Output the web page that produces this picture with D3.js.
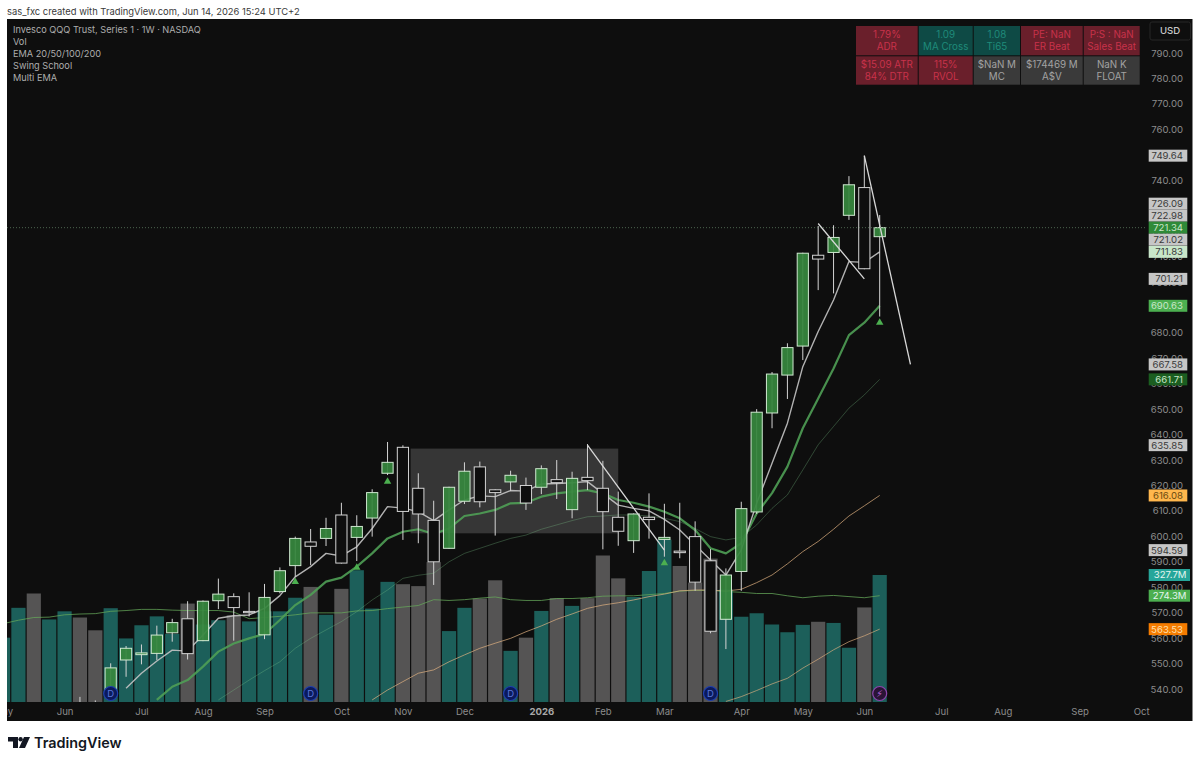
<!DOCTYPE html>
<html>
<head>
<meta charset="utf-8">
<script src="https://cdn.jsdelivr.net/npm/d3@7"></script>
<style>
    html, body { margin: 0; padding: 0; background: #ffffff; }
    svg { display: block; font-family: Inter, "Liberation Sans", sans-serif; }
</style>
</head>
<body>
<script>
// bar index of the first candle, index 0 is the first bar with a D badge
var candleStart = -2;
var opens = [530, 531, 538, 551.4, 553.5, 554.0, 562.1, 567.6, 559.0, 574.7, 576.3, 570.5, 561.3, 578.3, 588.5, 597.8, 599.2, 608.4, 599.6, 607.2, 624.8, 635.0, 618.9, 606.3, 595.3, 613.8, 627.3, 618.3, 621.4, 620.0, 619.3, 622.3, 610.5, 623.2, 618.9, 607.5, 598.3, 607.5, 598.8, 594.2, 599.9, 590.4, 567.4, 586.2, 609.6, 648.5, 663.4, 674.8, 710.5, 711.6, 726.2, 737.1, 717.8];
var highs = [536.9, 535.5, 550.1, 556.9, 557.5, 564.9, 567.6, 574.5, 574.8, 583.4, 577.6, 578, 581.3, 587.8, 599.9, 602.9, 607.3, 613.2, 608.3, 618.5, 637.1, 635.8, 624.8, 614.0, 619.5, 629.1, 629.4, 618.5, 625.8, 623.1, 627.9, 630.0, 625.4, 636.3, 629.7, 617.6, 609, 616.9, 612.8, 613.2, 605.9, 595.0, 587.4, 613.6, 650, 664.6, 675.9, 711.5, 722, 722.3, 741.6, 749.64, 726.3];
var lows = [525, 526, 536, 544.8, 549.7, 551.4, 558.6, 551.6, 558.8, 571.4, 559.0, 568.5, 559.6, 577.6, 584.1, 588.7, 596.2, 589.3, 590.3, 599.9, 624.1, 598.6, 597.3, 580.9, 595.1, 612.7, 611.4, 600.3, 617.8, 610.4, 616.6, 614.7, 607.1, 618.2, 594.9, 596.3, 593.5, 599.1, 592, 591.4, 578.6, 561.9, 555.7, 578.6, 608.8, 642.5, 654.0, 669.3, 696.8, 695.5, 724.4, 705.0, 686.4];
var closes = [533, 533, 548.3, 556.0, 554.2, 561.2, 566.1, 553.9, 574.5, 577.3, 572.0, 570.0, 576.0, 586.5, 599.2, 596.1, 603.1, 589.5, 603.9, 617.2, 629.1, 609.8, 608.8, 590.0, 619.3, 625.6, 613.6, 617.2, 624.0, 613.1, 626.6, 621.1, 622.8, 621.9, 609.7, 602.0, 608.8, 606.6, 599.6, 593.6, 582.0, 562.7, 584.8, 610.9, 648.8, 663.8, 674.2, 711.3, 709.0, 717.5, 738.2, 705.2, 721.34];

// volume in millions
var volumeStart = -7;
var volumes = [166, 243, 280, 213, 234, 218, 185, 242, 164, 198, 221, 176, 254, 200, 211, 224, 208, 234, 234, 269, 297, 225, 292, 340, 241, 310, 304, 299, 361, 183, 243, 267, 314, 132, 166, 235, 268, 248, 268, 378, 319, 271, 338, 419, 351, 308, 370, 290, 220, 229, 200, 180, 199, 207, 204, 140, 244, 327.7];
var greyVolumeBars = [-5, -2, -1, 5, 8, 13, 15, 19, 20, 21, 24, 25, 27, 29, 31, 32, 33, 37, 38, 39, 46, 49];

// moving averages, each starts at its own bar index
var emaWhiteStart = 1;
var emaWhite = [540.3, 546.2, 551.0, 555.3, 554.9, 561.2, 567.8, 568.8, 569.1, 571.7, 576.7, 584.1, 588.1, 593.3, 592.3, 595.9, 603.1, 611.7, 611.1, 609.7, 606.2, 610.4, 614.3, 615.9, 615.6, 618, 617.8, 620.6, 620.8, 621.1, 621.5, 616.9, 612.3, 611, 610, 606.7, 602.5, 596.6, 590.7, 584.8, 594.7, 613, 628.7, 644.5, 666.7, 680.5, 692.9, 708, 707.7, 711.83];
var emaGreenStart = 3;
var emaGreen = [535.7, 540.9, 543.5, 548.8, 554.7, 557.9, 559.9, 561.6, 567.1, 573, 577, 582.2, 583.8, 588.1, 593.3, 599.2, 601.8, 602.8, 600.9, 603.1, 608, 609, 610.4, 613, 613.2, 615.6, 616.9, 617.6, 618.2, 616.9, 614.3, 613.2, 611.7, 609.7, 607.1, 602.5, 595.3, 593.3, 597.3, 609, 617, 627.4, 642.5, 654.2, 666, 679.1, 684, 690.63];
var emaDimStart = 7;
var emaDim = [535.7, 539.6, 543.5, 547.2, 550.7, 556, 559.9, 563.2, 566.5, 570.4, 575, 578.9, 583.5, 584.7, 585.5, 590, 593.3, 595.3, 597.3, 599.2, 600.5, 602.8, 604.5, 606.2, 607.7, 608, 608.4, 608.4, 608, 607.1, 605.8, 603.1, 599.9, 598.6, 599.6, 604.5, 611, 616.3, 626.1, 636, 643.2, 650.4, 655.6, 661.71];
var emaOrangeStart = 17;
var emaOrange = [535.7, 539.6, 542.9, 546.2, 547.5, 550.7, 553.4, 556, 558, 559.9, 562.5, 564.8, 567.4, 569.5, 571.7, 573, 573.9, 575, 576.3, 577.3, 578.6, 578.9, 578.9, 578.5, 579.2, 581.8, 584.8, 589.2, 594, 598, 602.8, 608, 612, 616.08];
var emaLongStart = 40;
var emaLong = [535.1, 537, 539.4, 542, 544.2, 548.2, 551.7, 555.4, 558.6, 560.9, 563.53];

// volume moving average, millions
var volumeMaStart = -7;
var volumeMa = [202, 211, 218, 219, 225, 227, 228, 234, 236, 239, 239, 237, 236, 236, 236, 232, 215, 218, 221, 225, 230, 230, 230, 235, 236, 241, 245, 249, 264, 262, 264, 268, 271, 264, 262, 262, 267, 267, 269, 273, 274, 274, 277, 280, 286, 288, 288, 285, 283, 280, 280, 274, 269, 273, 275, 272, 269, 274.3];

// white swing lines: bar index and price at both ends
var swingFromBar = [31, 46, 49];
var swingFromPrice = [635.85, 722.98, 749.64];
var swingToBar = [36, 49, 52];
var swingToPrice = [594.59, 701.21, 667.58];

// grey base box
var boxBars = [19.5, 33];
var boxPrices = [634.5, 601.2];

// little green triangles and the badges at the bottom
var triangleBars = [12, 16, 18, 36, 50];
var trianglePrices = [582.1, 587.7, 621.5, 589.5, 684];
var dividendBars = [0, 13, 26, 39];
var earningsBar = 50;

// axes
var priceTicks = d3.range(540, 800, 10);
var timeBars = [-7, -3, 2, 6, 10, 15, 19, 23, 28, 32, 36, 41, 45, 49, 54, 58, 63, 67];
var timeNames = ["May", "Jun", "Jul", "Aug", "Sep", "Oct", "Nov", "Dec", "2026", "Feb", "Mar", "Apr", "May", "Jun", "Jul", "Aug", "Sep", "Oct"];

// last value labels on the price axis
var lastPrices = [749.64, 726.09, 722.98, 721.34, 721.02, 711.83, 701.21, 690.63, 667.58, 661.71, 635.85, 616.08, 594.59, 563.53];
var lastFills = ["#c6c6c6", "#c6c6c6", "#c6c6c6", "#2f8a38", "#c6c6c6", "#c8e6c9", "#c6c6c6", "#4caf50", "#c6c6c6", "#1b5e20", "#c6c6c6", "#ffb74d", "#c6c6c6", "#f57c00"];
var lastInks = ["#3a3a3a", "#3a3a3a", "#3a3a3a", "#c8e6c9", "#3a3a3a", "#3a3a3a", "#3a3a3a", "#c8e6c9", "#3a3a3a", "#c8e6c9", "#3a3a3a", "#6a4a10", "#3a3a3a", "#ffe0b2"];
var currentPrice = 721.34;
var lastVolumes = [327.7, 274.3];
var lastVolumeFills = ["#26a69a", "#4caf50"];

// stats table
var tableLines1 = ["1.79%", "1.09", "1.08", "PE: NaN", "P:S : NaN", "$15.09 ATR", "115%", "$NaN M", "$174469 M", "NaN K"];
var tableLines2 = ["ADR", "MA Cross", "Ti65", "ER Beat", "Sales Beat", "84% DTR", "RVOL", "MC", "A$V", "FLOAT"];
var tableKinds = ["red", "teal", "teal", "red", "red", "red", "red", "grey", "grey", "grey"];
var tableFill = { red: "#6a1f2b", teal: "#0e4a45", grey: "#3a3a3a" };
var tableInk = { red: "#c8324a", teal: "#1f8a7a", grey: "#a2a2a2" };
var tableColumns = [856, 918.7, 973.7, 1021, 1083.7, 1140.7];
var tableRows = [26, 56.3, 85.7];

var legendLines = ["Invesco QQQ Trust, Series 1 · 1W · NASDAQ", "Vol", "EMA 20/50/100/200", "Swing School", "Multi EMA"];

var w = 1200;
var h = 764;
var paneLeft = 7, paneRight = 1192.5, paneTop = 19, paneBottom = 721;
var plotBottom = 702, plotRight = 1146;

var x = d3.scaleLinear().domain([0, 50]).range([110.7, 879.7]);
var y = d3.scaleLinear().domain([540, 790]).range([689, 53]);
var yVolume = d3.scaleLinear().domain([0, 327.7]).range([plotBottom, 575]);

var svg = d3.select("body").append("svg")
    .attr("width", w)
    .attr("height", h);

svg.append("defs").append("clipPath")
    .attr("id", "plot-clip")
    .append("rect")
    .attr("x", paneLeft)
    .attr("y", paneTop)
    .attr("width", plotRight - paneLeft)
    .attr("height", plotBottom - paneTop);

svg.append("text")
    .attr("x", 7)
    .attr("y", 14.5)
    .attr("font-size", 9.4)
    .attr("fill", "#3a3a3a")
    .text("sas_fxc created with TradingView.com, Jun 14, 2026 15:24 UTC+2");

svg.append("rect")
    .attr("x", paneLeft)
    .attr("y", paneTop)
    .attr("width", paneRight - paneLeft)
    .attr("height", paneBottom - paneTop)
    .attr("fill", "#0e0e0e");

var plot = svg.append("g").attr("clip-path", "url(#plot-clip)");

// volume
plot.selectAll("rect.volume")
    .data(volumes)
    .enter()
    .append("rect")
    .attr("class", "volume")
    .attr("x", function (d, i) { return x(i + volumeStart) - 7.1; })
    .attr("width", 14.2)
    .attr("y", function (d) { return yVolume(d); })
    .attr("height", function (d) { return plotBottom - yVolume(d); })
    .attr("fill", function (d, i) {
        return greyVolumeBars.indexOf(i + volumeStart) >= 0 ? "#555454" : "#1c5f5a";
    });

// base box
plot.append("rect")
    .attr("x", x(boxBars[0]))
    .attr("width", x(boxBars[1]) - x(boxBars[0]))
    .attr("y", y(boxPrices[0]))
    .attr("height", y(boxPrices[1]) - y(boxPrices[0]))
    .attr("fill", "#ffffff")
    .attr("opacity", 0.17);

// current price line
svg.append("line")
    .attr("x1", paneLeft)
    .attr("x2", plotRight)
    .attr("y1", y(currentPrice))
    .attr("y2", y(currentPrice))
    .attr("stroke", "#5c7a5e")
    .attr("stroke-width", 0.8)
    .attr("stroke-dasharray", "1 2");

function drawLine(values, start, scale, color, width, opacity) {
    var line = d3.line()
        .x(function (d, i) { return x(i + start); })
        .y(function (d) { return scale(d); });
    plot.append("path")
        .attr("d", line(values))
        .attr("fill", "none")
        .attr("stroke", color)
        .attr("stroke-width", width)
        .attr("stroke-opacity", opacity)
        .attr("stroke-linejoin", "round");
}

drawLine(volumeMa, volumeMaStart, yVolume, "#66a85a", 1, 0.75);
drawLine(emaLong, emaLongStart, y, "#e0b080", 1, 0.65);
drawLine(emaOrange, emaOrangeStart, y, "#e0b080", 1, 0.7);
drawLine(emaDim, emaDimStart, y, "#7fc98a", 1, 0.3);
drawLine(emaGreen, emaGreenStart, y, "#4f9f55", 2.2, 0.9);
drawLine(emaWhite, emaWhiteStart, y, "#c4c4c4", 1.4, 0.9);

// candles
var candle = plot.selectAll("g.candle")
    .data(closes)
    .enter()
    .append("g")
    .attr("class", "candle");

candle.append("line")
    .attr("x1", function (d, i) { return x(i + candleStart); })
    .attr("x2", function (d, i) { return x(i + candleStart); })
    .attr("y1", function (d, i) { return y(highs[i]); })
    .attr("y2", function (d, i) { return y(lows[i]); })
    .attr("stroke", "#d4d4d4")
    .attr("stroke-width", 1);

candle.append("rect")
    .attr("x", function (d, i) { return x(i + candleStart) - 5.6; })
    .attr("width", 11.2)
    .attr("y", function (d, i) { return y(Math.max(opens[i], d)); })
    .attr("height", function (d, i) { return Math.max(1, Math.abs(y(opens[i]) - y(d))); })
    .attr("fill", function (d, i) { return d >= opens[i] ? "#36873d" : "#0e0e0e"; })
    .attr("fill-opacity", function (d, i) { return d >= opens[i] ? 0.93 : 1; })
    .attr("stroke", function (d, i) { return d >= opens[i] ? "#cfe8d0" : "#d4d4d4"; })
    .attr("stroke-width", 1);

// swing lines
plot.selectAll("line.swing")
    .data(swingFromBar)
    .enter()
    .append("line")
    .attr("class", "swing")
    .attr("x1", function (d) { return x(d); })
    .attr("y1", function (d, i) { return y(swingFromPrice[i]); })
    .attr("x2", function (d, i) { return x(swingToBar[i]); })
    .attr("y2", function (d, i) { return y(swingToPrice[i]); })
    .attr("stroke", "#d8d8d8")
    .attr("stroke-width", 1.3);

// triangles
plot.selectAll("path.signal")
    .data(triangleBars)
    .enter()
    .append("path")
    .attr("class", "signal")
    .attr("d", d3.symbol().type(d3.symbolTriangle).size(24))
    .attr("transform", function (d, i) {
        return "translate(" + x(d) + "," + y(trianglePrices[i]) + ")";
    })
    .attr("fill", "#4caf50");

// badges
var badge = plot.selectAll("g.badge")
    .data(dividendBars)
    .enter()
    .append("g")
    .attr("class", "badge")
    .attr("transform", function (d) { return "translate(" + x(d) + ",693.5)"; });

badge.append("circle")
    .attr("r", 7)
    .attr("fill", "#0b1a5c")
    .attr("stroke", "#1f3fb0")
    .attr("stroke-width", 1.2);

badge.append("text")
    .attr("text-anchor", "middle")
    .attr("dy", 3.4)
    .attr("font-size", 9.5)
    .attr("fill", "#5a78d8")
    .text("D");

var bolt = plot.append("g")
    .attr("transform", "translate(" + x(earningsBar) + ",693.5)");

bolt.append("circle")
    .attr("r", 7)
    .attr("fill", "#2a1436")
    .attr("stroke", "#8e44ad")
    .attr("stroke-width", 1.2);

bolt.append("text")
    .attr("text-anchor", "middle")
    .attr("dy", 3.4)
    .attr("font-size", 9.5)
    .attr("font-family", "DejaVu Sans")
    .attr("fill", "#b060d0")
    .text("⚡");

// price axis
var priceAxis = svg.append("g")
    .attr("transform", "translate(1183,0)")
    .call(d3.axisRight(y).tickValues(priceTicks).tickSize(0).tickPadding(0)
        .tickFormat(function (d) { return d.toFixed(2); }));

priceAxis.select(".domain").remove();
priceAxis.selectAll("text")
    .attr("text-anchor", "end")
    .attr("font-family", "Inter, sans-serif")
    .attr("font-size", 9.6)
    .attr("fill", "#8c8c8c");

// time axis
var timeAxis = svg.append("g")
    .attr("transform", "translate(0," + plotBottom + ")")
    .call(d3.axisBottom(x).tickValues(timeBars).tickSize(0).tickPadding(6)
        .tickFormat(function (d) { return timeNames[timeBars.indexOf(d)]; }));

timeAxis.select(".domain").remove();
timeAxis.selectAll("text")
    .attr("font-family", "Inter, sans-serif")
    .attr("font-size", 9.6)
    .attr("font-weight", function (d) { return d == 28 ? 700 : 400; })
    .attr("fill", function (d) { return d == 28 ? "#a8a8a8" : "#8c8c8c"; });

// the first month is cut off by the left edge of the pane
timeAxis.selectAll(".tick")
    .filter(function (d) { return d == -7; })
    .attr("clip-path", "inset(0 0 0 7px)")
    .select("text")
    .attr("clip-path", null);

svg.append("rect")
    .attr("x", 0)
    .attr("y", paneBottom - 20)
    .attr("width", paneLeft)
    .attr("height", 20)
    .attr("fill", "#ffffff");

// push labels away from the current price so that they do not overlap
var labelY = lastPrices.map(function (d) { return y(d); });
var currentAt = lastPrices.indexOf(currentPrice);
for (var i = currentAt - 1; i >= 0; i--) {
    labelY[i] = Math.min(labelY[i], labelY[i + 1] - 12);
}
for (var j = currentAt + 1; j < lastPrices.length; j++) {
    labelY[j] = Math.max(labelY[j], labelY[j - 1] + 12);
}

var priceLabel = svg.selectAll("g.last-price")
    .data(lastPrices)
    .enter()
    .append("g")
    .attr("class", "last-price")
    .attr("transform", function (d, i) { return "translate(0," + labelY[i] + ")"; });

priceLabel.append("rect")
    .attr("x", 1148.7)
    .attr("width", 38.6)
    .attr("y", -6)
    .attr("height", 12)
    .attr("fill", function (d, i) { return lastFills[i]; });

priceLabel.append("text")
    .attr("x", 1183)
    .attr("dy", 3.4)
    .attr("text-anchor", "end")
    .attr("font-size", 9.6)
    .attr("fill", function (d, i) { return lastInks[i]; })
    .text(function (d) { return d.toFixed(2); });

var volumeLabel = svg.selectAll("g.last-volume")
    .data(lastVolumes)
    .enter()
    .append("g")
    .attr("class", "last-volume")
    .attr("transform", function (d) { return "translate(0," + yVolume(d) + ")"; });

volumeLabel.append("rect")
    .attr("x", 1148.7)
    .attr("width", 41.3)
    .attr("y", -6)
    .attr("height", 12)
    .attr("fill", function (d, i) { return lastVolumeFills[i]; });

volumeLabel.append("text")
    .attr("x", 1186.5)
    .attr("dy", 3.4)
    .attr("text-anchor", "end")
    .attr("font-size", 9.6)
    .attr("fill", "#e4f5ef")
    .text(function (d) { return d.toFixed(1) + "M"; });

// USD box
svg.append("rect")
    .attr("x", 1150)
    .attr("y", 22)
    .attr("width", 40.5)
    .attr("height", 18)
    .attr("rx", 2)
    .attr("fill", "#0e0e0e")
    .attr("stroke", "#262626");

svg.append("text")
    .attr("x", 1170)
    .attr("y", 34.4)
    .attr("text-anchor", "middle")
    .attr("font-size", 9.6)
    .attr("font-weight", 500)
    .attr("fill", "#c8c8c8")
    .text("USD");

// stats table
var cell = svg.selectAll("g.cell")
    .data(tableKinds)
    .enter()
    .append("g")
    .attr("class", "cell");

function cellColumn(i) { return i % 5; }
function cellRow(i) { return Math.floor(i / 5); }

cell.append("rect")
    .attr("x", function (d, i) { return tableColumns[cellColumn(i)]; })
    .attr("width", function (d, i) { return tableColumns[cellColumn(i) + 1] - tableColumns[cellColumn(i)] - 1; })
    .attr("y", function (d, i) { return tableRows[cellRow(i)]; })
    .attr("height", function (d, i) { return tableRows[cellRow(i) + 1] - tableRows[cellRow(i)] - 1; })
    .attr("fill", function (d) { return tableFill[d]; });

function cellText(lines, offset) {
    cell.append("text")
        .attr("x", function (d, i) {
            return (tableColumns[cellColumn(i)] + tableColumns[cellColumn(i) + 1] - 1) / 2;
        })
        .attr("y", function (d, i) { return tableRows[cellRow(i)] + offset; })
        .attr("text-anchor", "middle")
        .attr("font-size", 9.8)
        .attr("fill", function (d) { return tableInk[d]; })
        .text(function (d, i) { return lines[i]; });
}
cellText(tableLines1, 12);
cellText(tableLines2, 24);

// legend
svg.selectAll("text.legend")
    .data(legendLines)
    .enter()
    .append("text")
    .attr("class", "legend")
    .attr("x", 13)
    .attr("y", function (d, i) { return 33 + i * 12; })
    .attr("font-size", 9.2)
    .attr("fill", "#adadad")
    .text(function (d) { return d; });

// TradingView logo
var logo = svg.append("g").attr("fill", "#131722");
logo.append("path").attr("d", "M8 737H18V748H13V741.5H8Z");
logo.append("circle").attr("cx", 20.6).attr("cy", 739.2).attr("r", 2.2);
logo.append("path").attr("d", "M24 737H30L25 748H19Z");
logo.append("text")
    .attr("x", 34)
    .attr("y", 748)
    .attr("font-size", 14.4)
    .attr("font-weight", 600)
    .text("TradingView");
</script>
</body>
</html>
